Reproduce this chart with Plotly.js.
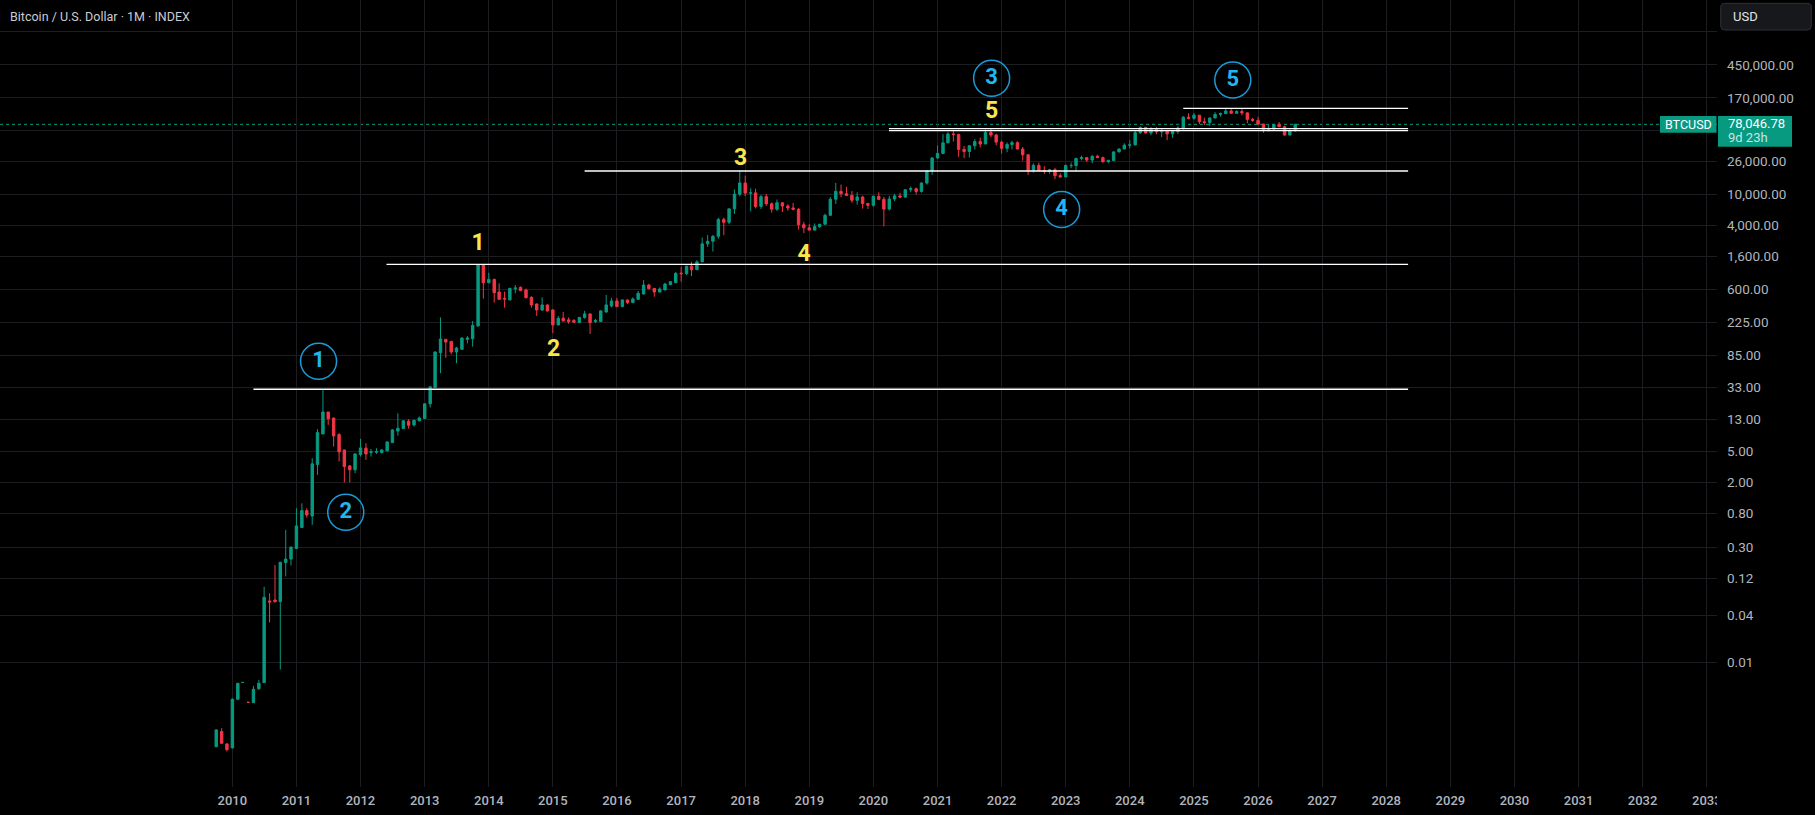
<!DOCTYPE html>
<html><head><meta charset="utf-8">
<script src="https://cdn.plot.ly/plotly-3.0.1.min.js"></script>
<style>html,body{margin:0;padding:0;background:#000;overflow:hidden}#chart{width:1815px;height:815px}</style>
</head><body><div id="chart"></div>
<script>
// ---------- DATA ----------
const months = [
'2009-10','2009-11','2009-12',
'2010-01','2010-02','2010-03','2010-04','2010-05','2010-06','2010-07','2010-08','2010-09','2010-10','2010-11','2010-12',
'2011-01','2011-02','2011-03','2011-04','2011-05','2011-06','2011-07','2011-08','2011-09','2011-10','2011-11','2011-12',
'2012-01','2012-02','2012-03','2012-04','2012-05','2012-06','2012-07','2012-08','2012-09','2012-10','2012-11','2012-12',
'2013-01','2013-02','2013-03','2013-04','2013-05','2013-06','2013-07','2013-08','2013-09','2013-10','2013-11','2013-12',
'2014-01','2014-02','2014-03','2014-04','2014-05','2014-06','2014-07','2014-08','2014-09','2014-10','2014-11','2014-12',
'2015-01','2015-02','2015-03','2015-04','2015-05','2015-06','2015-07','2015-08','2015-09','2015-10','2015-11','2015-12',
'2016-01','2016-02','2016-03','2016-04','2016-05','2016-06','2016-07','2016-08','2016-09','2016-10','2016-11','2016-12',
'2017-01','2017-02','2017-03','2017-04','2017-05','2017-06','2017-07','2017-08','2017-09','2017-10','2017-11','2017-12',
'2018-01','2018-02','2018-03','2018-04','2018-05','2018-06','2018-07','2018-08','2018-09','2018-10','2018-11','2018-12',
'2019-01','2019-02','2019-03','2019-04','2019-05','2019-06','2019-07','2019-08','2019-09','2019-10','2019-11','2019-12',
'2020-01','2020-02','2020-03','2020-04','2020-05','2020-06','2020-07','2020-08','2020-09','2020-10','2020-11','2020-12',
'2021-01','2021-02','2021-03','2021-04','2021-05','2021-06','2021-07','2021-08','2021-09','2021-10','2021-11','2021-12',
'2022-01','2022-02','2022-03','2022-04','2022-05','2022-06','2022-07','2022-08','2022-09','2022-10','2022-11','2022-12',
'2023-01','2023-02','2023-03','2023-04','2023-05','2023-06','2023-07','2023-08','2023-09','2023-10','2023-11','2023-12',
'2024-01','2024-02','2024-03','2024-04','2024-05','2024-06','2024-07','2024-08','2024-09','2024-10','2024-11','2024-12',
'2025-01','2025-02','2025-03','2025-04','2025-05','2025-06','2025-07','2025-08','2025-09','2025-10','2025-11','2025-12',
'2026-01','2026-02','2026-03','2026-04','2026-05','2026-06','2026-07','2026-08'
];
const opens = [
0.00083,0.0013,0.0009,
0.0008,0.00336,0.00552,0.00307,0.00304,0.00459,0.00549,0.0611,0.0629,0.0599,0.19,0.21,
0.287,0.532,0.878,0.75,3.42,8.44,16.1,13.5,8.27,5.26,3.28,2.93,
4.59,5.53,4.87,4.91,4.87,5.12,6.53,9.21,9.87,12.3,11.0,12.4,
13.3,20.5,33.2,92.8,137.4,129.5,94.6,102.4,137.4,140.1,204,1241,
730,806,555,461,439,612,637,589,474,390,327,379,
327,210,256,244,239,225,261,291,232,232,308,368,
426,361,439,406,447,523,682,618,555,589,689,730,
970,955,1190,1070,1350,2300,2480,2870,4730,4340,6450,9950,
13860,10270,10330,6930,9250,7500,6390,7730,7010,6630,6370,4040,
3690,3450,3820,4100,5330,8570,10820,10090,9600,8300,9150,7540,
7170,9350,8540,6410,8620,9450,9140,11350,11660,10780,13800,19700,
28990,33110,45200,58800,57700,37300,35040,41460,47100,43790,61300,57000,
46220,38480,43190,45510,37640,31790,19940,23300,20050,19430,20490,17170,
16550,23130,23150,28470,29250,27220,30470,29230,25940,26960,34640,37720,
42270,42580,61130,71290,60640,67490,62700,64620,58970,63330,70200,96400,
93400,102400,84300,82500,94200,104600,107100,115800,108200,114000,109500,90400,
87600,78600,64800,68000,78100,72900,57000,64500
];
const highs = [
0.00139,0.00143,0.00092,
0.00346,0.00545,0.00552,0.00307,0.00496,0.00593,0.093,0.0765,0.176,0.194,0.497,0.304,
0.94,1.09,0.94,4.12,9.7,31.5,16.1,13.5,8.6,5.26,3.38,4.74,
7.28,6.41,5.42,5.53,5.36,6.8,9.68,15.5,12.7,13.0,12.8,14.1,
20.8,34.8,96,262,138,130.5,110,145,151.6,235.6,1257,1250,
980,822,717,561,624,682,655,614,489,395,474,385,
333,274,308,263,249,266,318,294,251,323,508,465,
465,445,442,474,572,790,707,624,637,730,770,1000,
1170,1200,1350,1420,2760,2980,2990,4950,4980,6450,11400,19666,
17170,11790,11700,9760,9990,7780,8500,7760,7400,7680,6600,4400,
4110,4200,4100,5600,9100,13880,13200,12330,10950,10540,9500,7750,
9580,10500,9190,9460,10070,10380,11440,12470,12070,14100,19880,29300,
41950,58350,61780,64900,59500,41300,42300,50500,52900,67000,68990,59100,
47950,45800,48190,47440,40000,31980,24670,25210,22800,20990,21470,18390,
23950,25250,29200,31000,29820,31400,31800,30200,27480,35200,38400,44700,
48900,64000,73800,72800,71900,72000,70000,65100,66500,73600,99600,108200,
109300,102700,95000,95700,111900,110500,123200,124500,117900,126200,110600,94600,
97500,79500,76600,79000,83700,75000,67000,79500
];
const lows = [
0.00082,0.0009,0.00072,
0.00079,0.00336,0.00552,0.00307,0.00304,0.00441,0.00549,0.0324,0.0582,0.00808,0.126,0.174,
0.287,0.532,0.714,0.576,2.52,8.44,11.0,5.81,3.74,2.02,2.02,2.65,
4.33,3.92,4.33,4.68,4.74,5.05,6.49,8.02,9.79,9.87,10.5,12.3,
13.2,18.4,33.0,50.6,79.4,88.4,67.9,100.5,122.1,110.7,200,456,
717,406,439,350,439,534,572,458,350,274,317,312,
165,208,231,217,225,223,253,161,223,231,302,354,
359,354,390,403,445,520,603,484,551,586,686,728,
752,920,890,1060,1350,2100,1830,2670,2970,4110,5550,9380,
9400,6000,6530,6430,7040,5760,6070,5880,6100,6200,3500,3150,
3400,3400,3680,4060,5330,7450,9100,9400,7730,7300,6510,6430,
6850,8450,3850,6150,8110,8830,8990,10520,9880,10380,13200,17600,
28130,32300,45000,47000,30000,28800,29300,37330,39600,43300,53250,42000,
32950,34320,37160,37580,26700,17600,18780,19530,18150,18180,15480,16260,
16500,21400,19600,26940,25800,24800,28900,25160,24900,26560,34100,37600,
38500,41900,59000,59600,56500,58400,53500,49000,52500,58900,66800,90500,
89200,78200,76600,74400,93400,98200,105200,107300,107300,102000,80600,84500,
75800,61000,63500,66000,72000,56000,56500,62900
];
const closes = [
0.00136,0.00092,0.00076,
0.00336,0.00538,0.00552,0.00307,0.00451,0.00538,0.068,0.0593,0.0599,0.191,0.21,0.299,
0.559,0.878,0.772,3.49,8.77,16.1,13.2,7.95,4.96,3.22,2.93,4.68,
5.58,4.68,4.97,5.0,5.26,6.66,9.49,9.96,12.4,10.9,12.6,13.5,
20.5,33.8,94.6,138.7,127,94.6,106.5,142.9,142.9,207.3,1235,730,
806,544,447,452,619,624,577,470,379,327,379,317,
210,256,237,232,228,263,291,225,240,318,379,426,
361,439,406,452,534,682,612,555,606,702,752,962,
952,1190,1070,1350,2300,2480,2870,4730,4340,6450,9950,13860,
10270,10330,6930,9250,7500,6390,7730,7010,6630,6370,4040,3690,
3450,3820,4100,5330,8570,10820,10090,9600,8300,9150,7540,7170,
9350,8540,6410,8620,9450,9140,11350,11660,10780,13800,19700,28990,
33110,45200,58800,57700,37300,35040,41460,47100,43790,61300,57000,46220,
38480,43190,45510,37640,31790,19940,23300,20050,19430,20490,17170,16550,
23130,23150,28470,29250,27220,30470,29230,25940,26960,34640,37720,42270,
42580,61130,71290,60640,67490,62700,64620,58970,63330,70200,96400,93400,
102400,84300,82500,94200,104600,107100,115800,108200,114000,109500,90400,87600,
78600,64800,68000,78100,72900,57000,64500,78046.78
];

const yearTicks = ['2010-01-01','2011-01-01','2012-01-01','2013-01-01','2014-01-01','2015-01-01','2016-01-01','2017-01-01',
  '2018-01-01','2019-01-01','2020-01-01','2021-01-01','2022-01-01','2023-01-01','2024-01-01','2025-01-01','2026-01-01',
  '2027-01-01','2028-01-01','2029-01-01','2030-01-01','2031-01-01','2032-01-01','2033-01-01'];
const yearLabels = ['2010','2011','2012','2013','2014','2015','2016','2017','2018','2019','2020','2021','2022','2023',
  '2024','2025','2026','2027','2028','2029','2030','2031','2032','2033'];

const priceTicks = [1200000,450000,170000,65000,26000,10000,4000,1600,600,225,85,33,13,5,2,0.8,0.3,0.12,0.04,0.01];
const priceTickLabels = ['','450,000.00','170,000.00','','26,000.00','10,000.00','4,000.00','1,600.00','600.00','225.00',
  '85.00','33.00','13.00','5.00','2.00','0.80','0.30','0.12','0.04','0.01'];

// horizontal levels drawn on the chart
const levelPrices = [31.5, 1257, 19720, 64720, 68650, 125300];
const levelStarts = ['2010-05-01','2012-05-28','2015-07-01','2020-03-30','2020-03-30','2024-11-01'];
const levelEnd = '2028-05-05';

// Elliott wave labels (minor = yellow, major = circled cyan)
const minorWaveText = ['1','2','3','4','5'];
const minorWaveDates = ['2013-11-01','2015-01-05','2017-12-06','2018-12-03','2021-11-05'];
const minorWavePrices = [2274, 98.8, 27840, 1654, 111400];
const majorWaveText = ['1','2','3','4','5'];
const majorWaveDates = ['2011-05-07','2011-10-09','2021-11-05','2022-12-09','2025-08-10'];
const majorWavePrices = [71.9, 0.835, 303700, 6330, 288800];

const symbolName = 'BTCUSD';
const lastPrice = 78046.78;
const lastPriceText = '78,046.78';
const countdownText = '9d 23h';
const chartTitle = 'Bitcoin / U.S. Dollar · 1M · INDEX';
const currencyText = 'USD';

// ---------- STYLE ----------
const UP = '#089981', DOWN = '#F23645', GRID = '#1c1d21', TXT = '#b2b5be';
const YELLOW = '#F9E54E', CYAN_T = '#22B5F0', CYAN_L = '#1A9BD7';
const FONT = 'Roboto, "Open Sans", sans-serif';
const PW = 1717, PH = 787;
const Y_RANGE = [-3.5977, 6.4856];
function yPaper(v, dpx) { return (Math.log10(v) - Y_RANGE[0]) / (Y_RANGE[1] - Y_RANGE[0]) + (dpx || 0) / PH; }

const candles = {
  type: 'candlestick', x: months, open: opens, high: highs, low: lows, close: closes,
  increasing: {line: {color: UP, width: 1}, fillcolor: UP},
  decreasing: {line: {color: DOWN, width: 1}, fillcolor: DOWN},
  whiskerwidth: 0, hoverinfo: 'skip', showlegend: false
};
const minorWaves = {
  type: 'scatter', mode: 'text', x: minorWaveDates, y: minorWavePrices, text: minorWaveText,
  textposition: 'middle center', cliponaxis: false, hoverinfo: 'skip', showlegend: false,
  textfont: {family: FONT, size: 23, color: YELLOW, weight: 'bold'}
};
const majorWaves = {
  type: 'scatter', mode: 'markers+text', x: majorWaveDates, y: majorWavePrices, text: majorWaveText,
  textposition: 'middle center', cliponaxis: false, hoverinfo: 'skip', showlegend: false,
  marker: {symbol: 'circle-open', size: 36, color: CYAN_L, line: {width: 1.5, color: CYAN_L}},
  textfont: {family: FONT, size: 22, color: CYAN_T, weight: 'bold'}
};

const shapes = [];
levelPrices.forEach((p, i) => {
  shapes.push({type: 'line', xref: 'x', yref: 'y', x0: levelStarts[i], x1: levelEnd, y0: p, y1: p,
    line: {color: '#ffffff', width: 1.3}, layer: 'above'});
});
// last price dotted line
shapes.push({type: 'line', xref: 'paper', yref: 'y', x0: 0, x1: 1, y0: lastPrice, y1: lastPrice,
  line: {color: UP, width: 1, dash: 'dot'}, layer: 'below'});
// price label boxes
shapes.push({type: 'rect', xref: 'paper', yref: 'paper',
  x0: 1660/PW, x1: 1716.5/PW, y0: yPaper(lastPrice, -8.4), y1: yPaper(lastPrice, 8.4),
  fillcolor: UP, line: {width: 0}, layer: 'above'});
shapes.push({type: 'rect', xref: 'paper', yref: 'paper',
  x0: 1718/PW, x1: 1792/PW, y0: yPaper(lastPrice, -22.4), y1: yPaper(lastPrice, 8.4),
  fillcolor: UP, line: {width: 0}, layer: 'above'});
// clip the last year label at the price scale edge
shapes.push({type: 'rect', xref: 'paper', yref: 'paper', x0: 1, x1: 1.06, y0: -0.05, y1: 0,
  fillcolor: '#000', line: {width: 0}, layer: 'above'});
// USD box (rounded)
(function(){
  const x0 = 1720.7/PW, x1 = 1811.3/PW, yt = 1 - 3.3/PH, yb = 1 - 30/PH;
  const rx = 4/PW, ry = 4/PH;
  const path = `M ${x0+rx},${yt} L ${x1-rx},${yt} Q ${x1},${yt} ${x1},${yt-ry} L ${x1},${yb+ry} Q ${x1},${yb} ${x1-rx},${yb} ` +
    `L ${x0+rx},${yb} Q ${x0},${yb} ${x0},${yb+ry} L ${x0},${yt-ry} Q ${x0},${yt} ${x0+rx},${yt} Z`;
  shapes.push({type: 'path', xref: 'paper', yref: 'paper', path: path, fillcolor: '#17181b',
    line: {color: '#2e3036', width: 1}, layer: 'above'});
})();

const annotations = [];
annotations.push({text: chartTitle, xref: 'paper', yref: 'paper', x: 8/PW, y: 1 - 16.3/PH,
  xanchor: 'left', yanchor: 'middle', showarrow: false, font: {family: FONT, size: 12.5, color: '#c9ccd4'}});
annotations.push({text: currencyText, xref: 'paper', yref: 'paper', x: 1730.5/PW, y: 1 - 16.7/PH,
  xanchor: 'left', yanchor: 'middle', showarrow: false, font: {family: FONT, size: 13, color: '#e0e3eb'}});
annotations.push({text: symbolName, xref: 'paper', yref: 'paper', x: 1688.3/PW, y: yPaper(lastPrice),
  xanchor: 'center', yanchor: 'middle', showarrow: false, font: {family: FONT, size: 12.5, color: '#ffffff'}});
annotations.push({text: lastPriceText, xref: 'paper', yref: 'paper', x: 1725.5/PW, y: yPaper(lastPrice, 0.5),
  xanchor: 'left', yanchor: 'middle', showarrow: false, font: {family: FONT, size: 13, color: '#ffffff'}});
annotations.push({text: countdownText, xref: 'paper', yref: 'paper', x: 1725.5/PW, y: yPaper(lastPrice, -13.3),
  xanchor: 'left', yanchor: 'middle', showarrow: false, font: {family: FONT, size: 13, color: 'rgba(255,255,255,0.78)'}});

const layout = {
  width: 1815, height: 815,
  paper_bgcolor: '#000000', plot_bgcolor: '#000000',
  margin: {l: 0, r: 98, t: 0, b: 28, pad: 0},
  showlegend: false, boxgap: 0.3, dragmode: false,
  xaxis: {
    type: 'date', range: ['2006-05-18', '2033-02-28'], rangeslider: {visible: false},
    tickmode: 'array', tickvals: yearTicks, ticktext: yearLabels,
    showgrid: true, gridcolor: GRID, gridwidth: 1, zeroline: false, showline: false, ticks: '',
    ticklabelstandoff: 4,
    tickfont: {family: FONT, size: 13, color: TXT, weight: 500}, fixedrange: true
  },
  yaxis: {
    type: 'log', side: 'right', range: Y_RANGE,
    tickmode: 'array', tickvals: priceTicks, ticktext: priceTickLabels,
    showgrid: true, gridcolor: GRID, gridwidth: 1, zeroline: false, showline: false, ticks: '',
    ticklabelstandoff: 9,
    tickfont: {family: FONT, size: 13.5, color: TXT}, fixedrange: true
  },
  shapes: shapes,
  annotations: annotations
};

Plotly.newPlot('chart', [candles, minorWaves, majorWaves], layout, {staticPlot: true, displayModeBar: false});
</script>
</body></html>
